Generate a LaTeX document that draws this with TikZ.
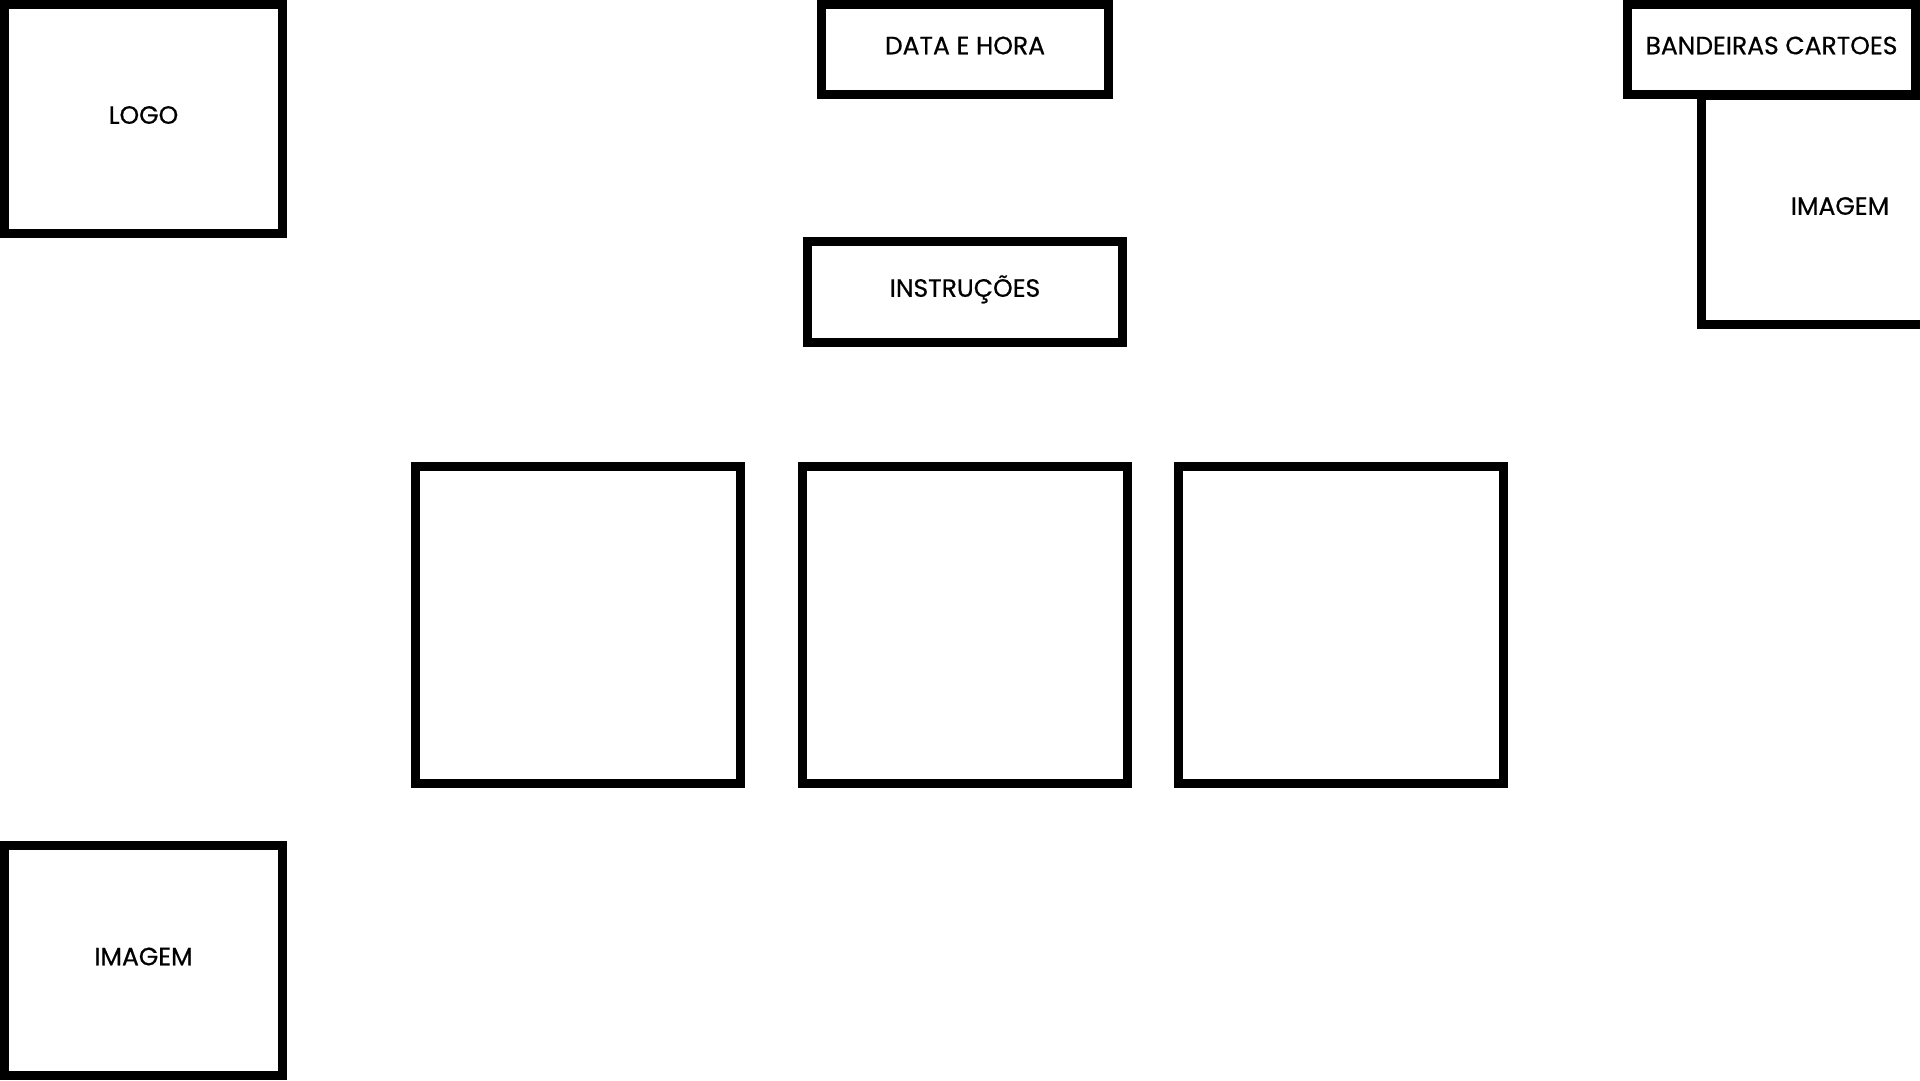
\documentclass[tikz,border=0pt]{standalone}
\usepackage{fontspec}
\setmainfont{Poppins}[FakeBold=0.6]
\usepackage{tikz}
\usetikzlibrary{positioning}

\begin{document}
\begin{tikzpicture}[
  x=1pt, y=-1pt,
  font=\fontsize{25}{30}\selectfont,
  box/.style={draw, line width=9pt, fill=white, align=center, inner sep=0pt,
              text height=0.95em, text depth=0pt},
  bigbox/.style={box, minimum width=278pt, minimum height=229pt},
  bar/.style={box, minimum height=90pt},
  slot/.style={box, minimum width=325pt, minimum height=317pt},
]
\useasboundingbox (0,0) rectangle (1920,1080);

% topo: logo, data e hora, bandeiras + imagem
\node[bigbox] (logo)   at (143.5, 119) {LOGO};
\node[bar, minimum width=287pt] (datahora) at (965, 49.5) {DATA E HORA};
\node[bigbox] (imgtop) at (1840, 210) {IMAGEM};
\node[bar, minimum width=288pt] (bandeiras) at (1771.5, 49.5) {BANDEIRAS CARTOES};

\node[box, minimum width=315pt, minimum height=101pt] (instr) at (965, 292) {INSTRUÇÕES};

% tres caixas centrais
\node[slot] (slotA) at (578, 625) {};
\node[slot] (slotB) at (965, 625) {};
\node[slot] (slotC) at (1341, 625) {};

\node[bigbox, minimum height=230pt] (imgbot) at (143.5, 960.5) {IMAGEM};
\end{tikzpicture}
\end{document}
